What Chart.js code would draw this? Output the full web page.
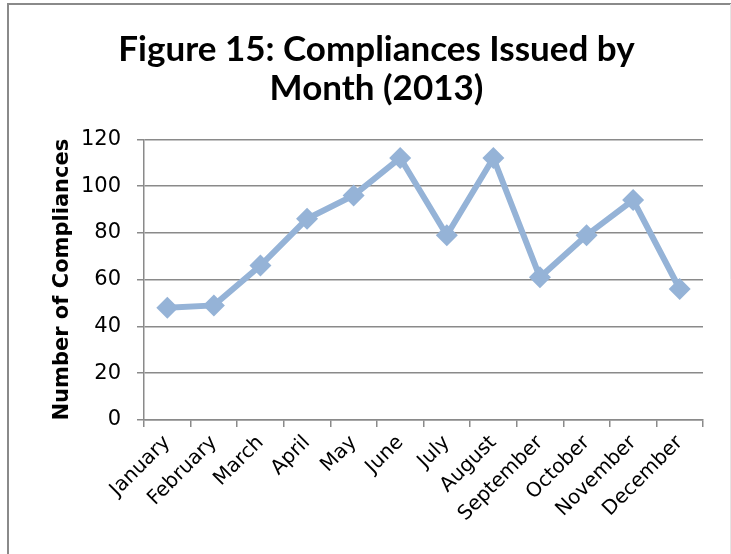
<!DOCTYPE html>
<html>
<head>
<meta charset="utf-8">
<script src="https://cdn.jsdelivr.net/npm/chart.js@4/dist/chart.umd.min.js"></script>
<style>
html,body{margin:0;padding:0;background:#fff;}
#wrap{position:relative;width:731px;height:554px;}
</style>
</head>
<body>
<div id="wrap"><canvas id="c" width="731" height="554"></canvas></div>
<script>
const titleLines = ['Figure 15: Compliances Issued by', 'Month (2013)'];
const yAxisTitle = 'Number of Compliances';
const months = ['January','February','March','April','May','June','July','August','September','October','November','December'];
const compliances = [48, 49, 66, 86, 96, 112, 79, 112, 61, 79, 94, 56];
const yTicks = [0, 20, 40, 60, 80, 100, 120];

const borderPlugin = {
  id: 'frame',
  beforeDraw(chart) {
    const ctx = chart.ctx;
    ctx.save();
    ctx.fillStyle = '#fff';
    ctx.fillRect(0, 0, chart.width, chart.height);
    ctx.strokeStyle = '#8a8a8a';
    ctx.lineWidth = 2;
    ctx.beginPath();
    ctx.moveTo(8, 560);
    ctx.lineTo(8, 4);
    ctx.lineTo(731, 4);
    ctx.stroke();
    ctx.strokeStyle = '#e4e4e4';
    ctx.lineWidth = 1;
    ctx.beginPath();
    ctx.moveTo(730.5, 4);
    ctx.lineTo(730.5, 560);
    ctx.stroke();
    ctx.restore();
  }
};

new Chart(document.getElementById('c'), {
  type: 'line',
  data: {
    labels: months,
    datasets: [{
      data: compliances,
      borderColor: '#95b3d7',
      backgroundColor: '#95b3d7',
      borderWidth: 6,
      pointStyle: 'rectRot',
      pointRadius: 11,
      pointHoverRadius: 11,
      pointBorderWidth: 0,
      tension: 0,
      fill: false
    }]
  },
  plugins: [borderPlugin],
  options: {
    responsive: false,
    animation: false,
    devicePixelRatio: 1,
    layout: { padding: { left: 50, right: 28, top: 31, bottom: 0 } },
    plugins: {
      legend: { display: false },
      tooltip: { enabled: false },
      title: {
        display: true,
        text: titleLines,
        color: '#000',
        font: { family: 'Lato', weight: 'bold', size: 35, lineHeight: 1.09 },
        padding: { top: 0, bottom: 32 }
      }
    },
    scales: {
      x: {
        type: 'category',
        offset: true,
        grid: { display: true, drawOnChartArea: false, drawTicks: true, tickLength: 7, offset: true, color: '#8a8a8a', lineWidth: 1.5 },
        border: { display: true, color: '#8a8a8a', width: 1.5 },
        ticks: {
          color: '#000',
          font: { family: 'DejaVu Sans', size: 20 },
          minRotation: 45,
          maxRotation: 45,
          autoSkip: false,
          padding: 4
        },
        afterFit(scale) { scale.height = 134; }
      },
      y: {
        min: 0,
        max: 120,
        afterBuildTicks(scale) { scale.ticks = yTicks.map(v => ({ value: v })); },
        grid: { display: true, color: '#8a8a8a', lineWidth: 1.5, drawTicks: true, tickLength: 7 },
        border: { display: true, color: '#8a8a8a', width: 1.5 },
        ticks: {
          color: '#000',
          font: { family: 'DejaVu Sans', size: 21 },
          padding: 16
        },
        title: {
          display: true,
          text: yAxisTitle,
          color: '#000',
          font: { family: 'DejaVu Sans', weight: 'bold', size: 21 },
          padding: { top: 0, bottom: 6 }
        },
        afterFit(scale) { scale.width = 94; }
      }
    }
  }
});
</script>
</body>
</html>
